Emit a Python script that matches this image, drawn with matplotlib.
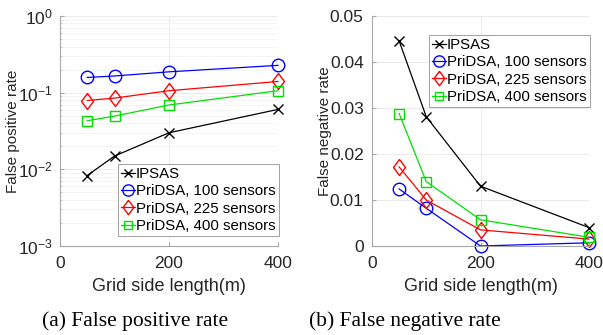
import matplotlib
matplotlib.use('Agg')
import matplotlib.pyplot as plt

plt.rcParams['font.family'] = ['Liberation Sans', 'DejaVu Sans']
plt.rcParams['mathtext.default'] = 'regular'

grid_len = [50, 100, 200, 400]
labels = ['IPSAS', 'PriDSA, 100 sensors', 'PriDSA, 225 sensors', 'PriDSA, 400 sensors']

# false positive rate
fp_ipsas = [0.0083, 0.0149, 0.030, 0.0605]
fp_100 = [0.158, 0.165, 0.187, 0.227]
fp_225 = [0.079, 0.085, 0.106, 0.140]
fp_400 = [0.043, 0.0495, 0.069, 0.106]

# false negative rate
fn_ipsas = [0.0446, 0.0281, 0.0130, 0.0040]
fn_100 = [0.0124, 0.0082, 0.0, 0.0007]
fn_225 = [0.0172, 0.0100, 0.0035, 0.0015]
fn_400 = [0.0288, 0.0140, 0.0057, 0.0019]

diamond = [(0, 1), (0.75, 0), (0, -1), (-0.75, 0), (0, 1)]
styles = [
    dict(color='black', marker='x', ms=7, mew=1.0),
    dict(color='blue', marker='o', ms=9, mew=1.0, mfc='none'),
    dict(color='red', marker=diamond, ms=11.5, mew=1.0, mfc='none'),
    dict(color='#00e000', marker='s', ms=7, mew=1.0, mfc='none'),
]

W, H = 603, 335
fig = plt.figure(figsize=(W / 100, H / 100), dpi=100)


def px_axes(x0, y0, x1, y1):
    return fig.add_axes([x0 / W, 1 - y1 / H, (x1 - x0) / W, (y1 - y0) / H])


def style_axes(ax, ypad):
    for s in ['top', 'right']:
        ax.spines[s].set_visible(False)
    for s in ['left', 'bottom']:
        ax.spines[s].set_color('#a6a6a6')
        ax.spines[s].set_linewidth(0.8)
    ax.tick_params(direction='in', length=3, labelsize=12.5, color='#a6a6a6',
                   labelcolor='#262626')
    ax.tick_params(axis='x', pad=7)
    ax.tick_params(axis='y', pad=ypad)
    ax.tick_params(which='minor', direction='in', length=1.5, color='#c8c8c8')
    ax.set_xlim(0, 400)
    ax.set_xticks([0, 200, 400])
    ax.set_xlabel('Grid side length(m)', fontsize=13, color='#262626', labelpad=5)


def add_legend(ax, x, y):
    leg = ax.legend(loc='upper left', bbox_to_anchor=(x / W, 1 - y / H),
                    bbox_transform=fig.transFigure, fontsize=10.8,
                    handlelength=0.9, handletextpad=0.1, labelspacing=0.22,
                    borderpad=0.2, borderaxespad=0, fancybox=False,
                    framealpha=1, edgecolor='#a0a0a0', markerscale=0.9)
    leg.get_frame().set_linewidth(0.7)


# (a)
ax1 = px_axes(60, 16, 278, 246)
for ys, st, lab in zip([fp_ipsas, fp_100, fp_225, fp_400], styles, labels):
    ax1.plot(grid_len, ys, lw=0.9, label=lab, clip_on=False, **st)
ax1.set_yscale('log')
ax1.set_ylim(1e-3, 1e0)
ax1.grid(True, which='major', color='#e6e6e6', lw=0.6)
ax1.grid(True, which='minor', color='#f0f0f0', lw=0.5)
style_axes(ax1, 5)
ax1.set_ylabel('False positive rate', fontsize=11, color='#262626')
ax1.yaxis.set_label_coords(-0.183, 0.5)
add_legend(ax1, 118, 164)

# (b)
ax2 = px_axes(372, 16, 589, 246)
for ys, st, lab in zip([fn_ipsas, fn_100, fn_225, fn_400], styles, labels):
    ax2.plot(grid_len, ys, lw=0.9, label=lab, clip_on=False, **st)
ax2.set_ylim(0, 0.05)
ax2.set_yticks([0, 0.01, 0.02, 0.03, 0.04, 0.05])
ax2.set_yticklabels(['0', '0.01', '0.02', '0.03', '0.04', '0.05'])
ax2.grid(True, color='#e6e6e6', lw=0.6)
style_axes(ax2, 6)
ax2.set_ylabel('False negative rate', fontsize=11, color='#262626')
ax2.yaxis.set_label_coords(-0.184, 0.5)
add_legend(ax2, 429, 35)

fig.text(135 / W, 1 - 321 / H, '(a) False positive rate', ha='center', va='center',
         fontsize=15.5, family='Liberation Serif')
fig.text(405 / W, 1 - 321 / H, '(b) False negative rate', ha='center', va='center',
         fontsize=15.5, family='Liberation Serif')

fig.savefig('out.png', dpi=100)
